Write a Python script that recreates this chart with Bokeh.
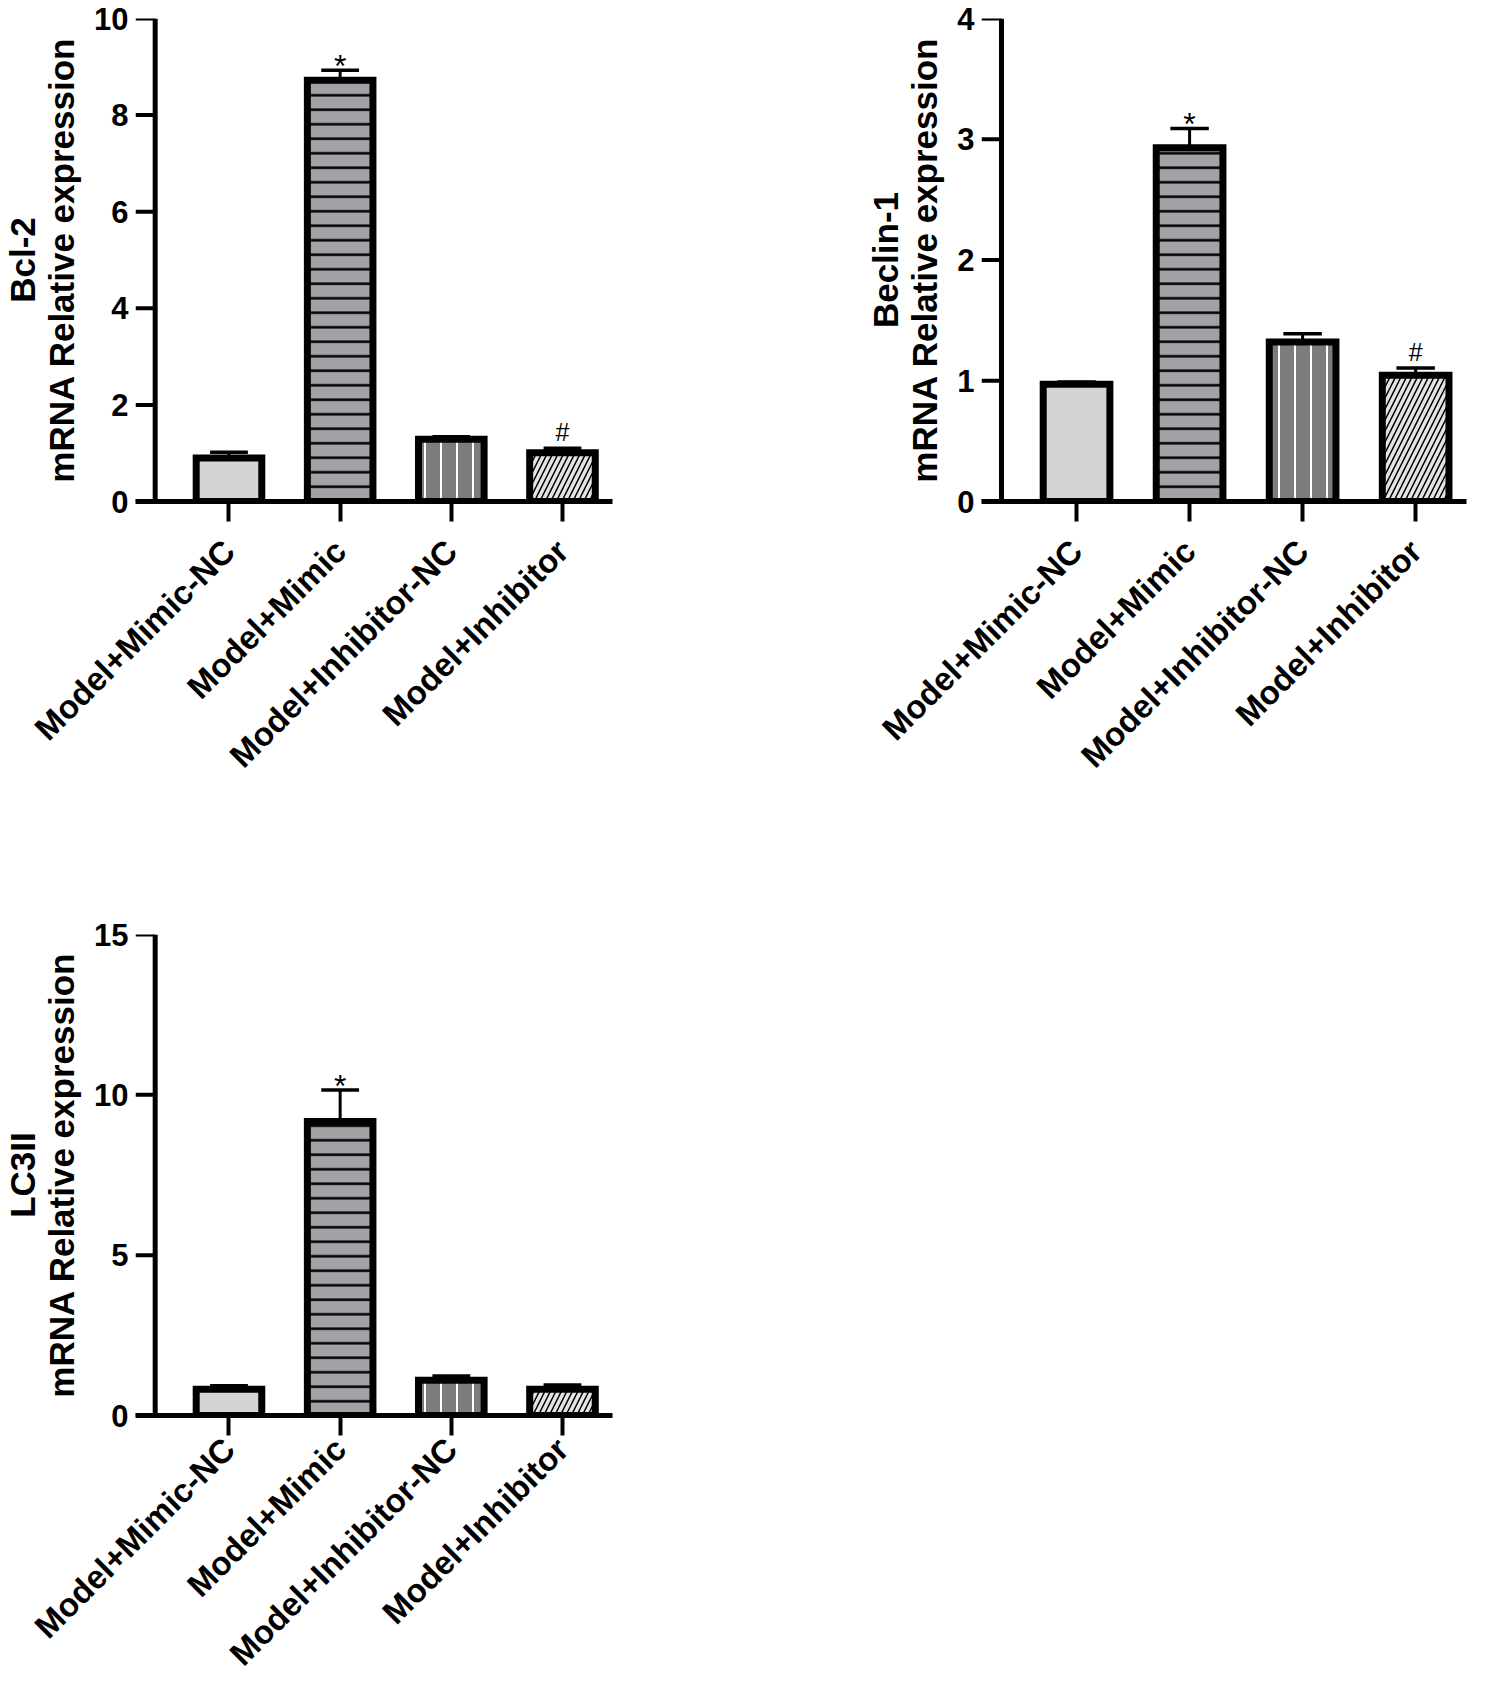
import math
from bokeh.plotting import figure
from bokeh.layouts import column, row
from bokeh.models import ColumnDataSource, FixedTicker, Range1d
from bokeh.embed import file_html
from bokeh.resources import INLINE
from bokeh.core.properties import value

# ---------------- data ----------------
groups = ["Model+Mimic-NC", "Model+Mimic", "Model+Inhibitor-NC", "Model+Inhibitor"]
x_pos = [1, 2, 3, 4]

bcl2_mean = [0.90, 8.72, 1.29, 1.01]
bcl2_err = [0.12, 0.21, 0.05, 0.09]
bcl2_sig = ["", "*", "", "#"]
bcl2_ticks = [0, 2, 4, 6, 8, 10]

beclin_mean = [0.97, 2.93, 1.32, 1.045]
beclin_err = [0.02, 0.16, 0.07, 0.06]
beclin_sig = ["", "*", "", "#"]
beclin_ticks = [0, 1, 2, 3, 4]

lc3_mean = [0.82, 9.17, 1.10, 0.82]
lc3_err = [0.11, 0.98, 0.13, 0.13]
lc3_sig = ["", "*", "", ""]
lc3_ticks = [0, 5, 10, 15]

# ---------------- styles ----------------
FONT = "Liberation Sans"
X_START, Y_AXIS_X, X_END = 0.159, 0.336, 4.45
fill_colors = ["#d4d4d4", "#a1a1a6", "#7c7c7c", "#e4e4e4"]
hatch_patterns = [" ", "horizontal_line", "vertical_line", "right_diagonal_line"]
hatch_colors = ["black", "black", "white", "black"]
hatch_scales = [12, 14.5, 16, 11]
hatch_weights = [1, 2.5, 2, 1.5]


def panel(gene, mean, err, sig, ticks, width, height, bl, br, bt, bb, xstand):
    ymax = ticks[-1]
    p = figure(width=width, height=height, title=None,
               x_range=Range1d(X_START, X_END), y_range=Range1d(0, ymax),
               output_backend="svg", toolbar_location=None,
               min_border_left=bl, min_border_right=br,
               min_border_top=bt, min_border_bottom=bb)
    p.outline_line_color = None
    p.xgrid.visible = False
    p.ygrid.visible = False
    p.background_fill_color = "white"
    p.border_fill_color = "white"

    # y axis line and its ticks (drawn so the x axis can run past it to the left)
    p.segment(x0=[Y_AXIS_X], y0=[0], x1=[Y_AXIS_X], y1=[ymax], line_color="black", line_width=5)
    p.segment(x0=[X_START] * len(ticks), y0=ticks, x1=[Y_AXIS_X] * len(ticks), y1=ticks,
              line_color="black", line_width=4)

    top = [m + e for m, e in zip(mean, err)]
    cap = 0.17
    # error bars (upper only)
    p.segment(x0=x_pos, y0=mean, x1=x_pos, y1=top, line_color="black", line_width=3)
    p.segment(x0=[x - cap for x in x_pos], y0=top, x1=[x + cap for x in x_pos], y1=top,
              line_color="black", line_width=3.5)

    src = ColumnDataSource(dict(x=x_pos, top=mean, fill=fill_colors, hatch=hatch_patterns,
                                hcolor=hatch_colors, hscale=hatch_scales, hweight=hatch_weights))
    p.vbar(x="x", top="top", bottom=0, width=0.59, source=src,
           fill_color="fill", hatch_pattern="hatch", hatch_color="hcolor",
           hatch_scale="hscale", hatch_weight="hweight",
           line_color="black", line_width=7, line_join="miter")

    # significance marks
    star_x = [x for x, s in zip(x_pos, sig) if s == "*"]
    star_y = [t for t, s in zip(top, sig) if s == "*"]
    hash_x = [x for x, s in zip(x_pos, sig) if s == "#"]
    hash_y = [t for t, s in zip(top, sig) if s == "#"]
    if star_x:
        p.text(x=star_x, y=star_y, text=["*"] * len(star_x), text_align="center",
               text_baseline="bottom", y_offset=14, text_font=value(FONT),
               text_font_size="32px", text_color="black")
    if hash_x:
        p.text(x=hash_x, y=hash_y, text=["#"] * len(hash_x), text_align="center",
               text_baseline="bottom", y_offset=-2, text_font=value(FONT),
               text_font_size="25px", text_color="black")

    # x axis
    xa = p.xaxis[0]
    xa.axis_line_width = 5
    xa.axis_line_color = "black"
    xa.major_tick_line_width = 4
    xa.major_tick_line_color = "black"
    xa.major_tick_in = 0
    xa.major_tick_out = 20
    xa.minor_tick_line_color = None
    xa.ticker = FixedTicker(ticks=x_pos)
    xa.major_label_overrides = {x: g for x, g in zip(x_pos, groups)}
    xa.major_label_orientation = math.pi / 4
    xa.major_label_standoff = xstand
    xa.major_label_text_font = FONT
    xa.major_label_text_font_style = "bold"
    xa.major_label_text_color = "black"
    xa.major_label_text_font_size = "33px"

    # y axis (labels only; line and ticks drawn above)
    ya = p.yaxis[0]
    ya.axis_line_color = None
    ya.major_tick_line_color = None
    ya.major_tick_in = 0
    ya.major_tick_out = 0
    ya.minor_tick_line_color = None
    ya.ticker = FixedTicker(ticks=ticks)
    ya.major_label_standoff = 7
    ya.major_label_text_font = FONT
    ya.major_label_text_font_style = "bold"
    ya.major_label_text_color = "black"
    ya.major_label_text_font_size = "31px"
    ya.axis_label = gene + "\nmRNA Relative expression"
    ya.axis_label_text_font = FONT
    ya.axis_label_text_font_style = "bold"
    ya.axis_label_text_font_size = "35px"
    ya.axis_label_text_line_height = 1.0
    ya.axis_label_text_color = "black"
    ya.axis_label_standoff = 10
    return p


p1 = panel("Bcl-2", bcl2_mean, bcl2_err, bcl2_sig, bcl2_ticks, 854, 900, 127, 242, 18, 399, 24)
p2 = panel("Beclin-1", beclin_mean, beclin_err, beclin_sig, beclin_ticks, 631, 900, 127, 19, 18, 399, 24)
p3 = panel("LC3II", lc3_mean, lc3_err, lc3_sig, lc3_ticks, 854, 788, 127, 242, 34, 266, 8)

layout = column(row(p1, p2), p3)
open("out.html", "w").write(file_html(layout, INLINE))
